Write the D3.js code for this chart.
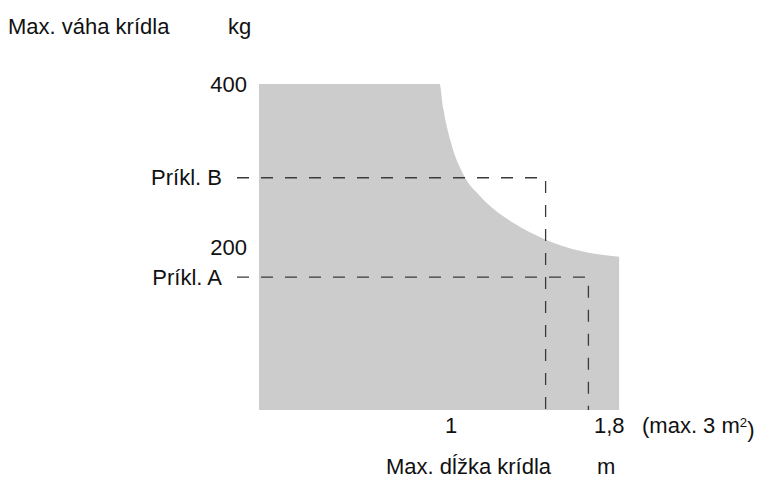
<!DOCTYPE html>
<html>
<head>
<meta charset="utf-8">
<script src="https://cdn.jsdelivr.net/npm/d3@7"></script>
<style>
  html, body { margin: 0; padding: 0; background: #fff; }
  svg text { font-family: "Liberation Sans", Arial, sans-serif; fill: #111; }
</style>
</head>
<body>
<svg id="chart" width="772" height="479"></svg>
<script>
// ---- data ----
const yTicks = [400, 200];
const yTickLabels = ["400", "200"];
const xTicks = [1, 1.8];
const xTickLabels = ["1", "1,8"];
// envelope of allowed wing (length m, max weight kg)
const envLength = [0, 0, 0.97, 0.99, 1.03, 1.10, 1.19, 1.37, 1.54, 1.73, 1.935, 1.935];
const envWeight = [0, 400, 400, 370, 329, 288, 262, 229, 209, 195, 188, 0];
// examples
const exNames = ["Príkl. B", "Príkl. A"];
const exLength = [1.54, 1.77];
const exWeight = [285, 163];

const svg = d3.select("#chart");
const x = d3.scaleLinear().domain([0, 1.8]).range([259, 594]);
const y = d3.scaleLinear().domain([0, 400]).range([410, 84]);
const FS = 22;

// gray region
const pts = envLength.map((l, i) => [x(l), y(envWeight[i])]);
const topPts = pts.slice(1, pts.length - 1);
const curveGen = d3.line().curve(d3.curveMonotoneX);
const areaPath = "M" + pts[0][0] + "," + pts[0][1] + "L" + curveGen(topPts).slice(1) +
             "L" + pts[pts.length - 1][0] + "," + pts[pts.length - 1][1] + "Z";
svg.append("path").attr("d", areaPath).attr("fill", "#cccccc");

// dashed example lines
exNames.forEach((n, i) => {
  const x0 = x(0) - 22;
  const d = d3.line()([[x0, y(exWeight[i])], [x(exLength[i]), y(exWeight[i])], [x(exLength[i]), y(0)]]);
  svg.append("path").attr("d", d).attr("fill", "none")
    .attr("stroke", "#3a3a3a").attr("stroke-width", 1.3)
    .attr("stroke-dasharray", "12,12");
  svg.append("text").attr("x", x(0) - 37).attr("y", y(exWeight[i]))
    .attr("dy", "0.35em").attr("text-anchor", "end")
    .style("font-size", FS + "px").text(n);
});

// y tick labels
yTicks.forEach((t, i) => {
  svg.append("text").attr("x", x(0) - 12).attr("y", y(t))
    .attr("dy", "0.38em").attr("text-anchor", "end")
    .style("font-size", FS + "px").text(yTickLabels[i]);
});

// x tick labels
xTicks.forEach((t, i) => {
  svg.append("text").attr("x", x(t)).attr("y", 433)
    .attr("text-anchor", "start")
    .style("font-size", FS + "px").text(xTickLabels[i]);
});
const ax = svg.append("text").attr("x", 642).attr("y", 433)
  .style("font-size", FS + "px");
ax.append("tspan").text("(max. 3 m");
ax.append("tspan").attr("dy", "-0.45em").style("font-size", (FS * 0.6) + "px").text("2");
ax.append("tspan").attr("dy", "0.45em").text(")");

// axis titles
svg.append("text").attr("x", 8).attr("y", 34).style("font-size", FS + "px").text("Max. váha krídla");
svg.append("text").attr("x", 228).attr("y", 34).style("font-size", FS + "px").text("kg");
svg.append("text").attr("x", 386).attr("y", 474).style("font-size", FS + "px").text("Max. dĺžka krídla");
svg.append("text").attr("x", 597).attr("y", 474).style("font-size", FS + "px").text("m");
</script>
</body>
</html>
